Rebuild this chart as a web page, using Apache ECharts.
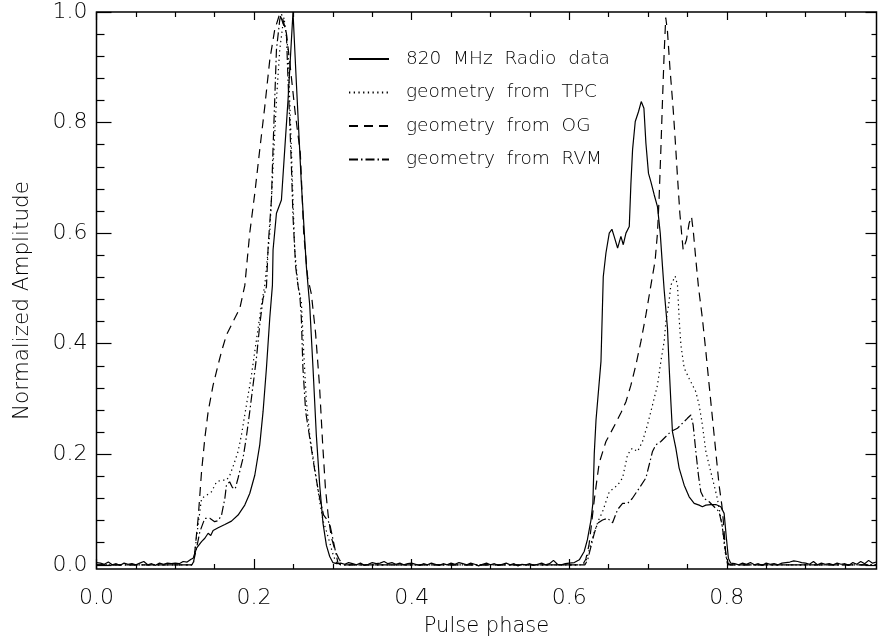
<!DOCTYPE html>
<html><head><meta charset="utf-8">
<script src="https://cdn.jsdelivr.net/npm/echarts@6/dist/echarts.min.js"></script>
<style>html,body{margin:0;padding:0;background:#fff}#c{width:878px;height:644px}</style>
</head><body><div id="c"></div>
<script>
// ---- data (pulse phase, normalized amplitude) ----
const radioPhase = [0,0.005,0.01,0.015,0.02,0.025,0.03,0.035,0.04,0.045,0.05,0.055,0.06,0.065,0.07,0.075,0.08,0.085,0.09,0.095,0.1,0.105,0.11,0.115,0.12,
 0.1227,0.127,0.1333,0.1375,0.1417,0.145,0.148,0.1544,0.1629,0.1713,0.1797,0.1882,0.1945,0.2009,0.2072,0.2114,0.2157,0.2199,0.2233,0.2241,0.2284,0.2347,0.2389,0.2431,0.2494,
 0.2537,0.26,0.2664,0.2706,0.2748,0.279,0.2833,0.2875,0.2918,0.296,0.3,
 0.305,0.31,0.315,0.32,0.325,0.33,0.335,0.34,0.345,0.35,0.355,0.36,0.365,0.37,0.375,0.38,0.385,0.39,0.395,0.4,0.405,0.41,0.415,0.42,0.425,0.43,0.435,0.44,0.445,0.45,
 0.455,0.46,0.465,0.47,0.475,0.48,0.485,0.49,0.495,0.5,0.505,0.51,0.515,0.52,0.525,0.53,0.535,0.54,0.545,0.55,0.555,0.56,0.565,0.57,0.575,0.58,0.585,0.59,0.595,0.6,
 0.6065,0.6128,0.619,0.623,0.6276,0.63,0.6318,0.634,0.6403,0.6432,0.6466,0.6508,0.6542,0.657,0.6614,0.6656,0.6686,0.672,0.6762,0.6783,0.6804,0.6838,0.688,0.6914,0.6948,0.6973,
 0.7006,0.7036,0.7079,0.712,0.7155,0.7184,0.7205,0.7247,0.7269,0.729,0.731,0.7353,0.7395,0.7459,0.7522,0.7586,0.7649,0.769,0.7734,0.7797,0.786,0.7924,0.7966,0.7995,0.802,0.805,
 0.81,0.815,0.82,0.825,0.83,0.835,0.84,0.845,0.85,0.855,0.86,0.865,0.87,0.875,0.88,0.885,0.89,0.895,0.9,0.905,0.91,0.915,0.92,0.925,0.93,0.935,0.94,0.945,0.95,0.955,0.96,0.965,0.97,0.975,0.98,0.985,0.99];
const radioAmp = [0.004,0.003,0.001,0.005,0.000,0.002,-0.001,0.003,0.001,0.002,0.000,0.003,0.006,0.000,0.002,-0.001,0.003,0.001,0.003,0.002,0.003,0.002,0.006,0.005,0.010,
 0.012,0.030,0.042,0.048,0.057,0.053,0.062,0.067,0.073,0.079,0.090,0.108,0.129,0.162,0.217,0.277,0.356,0.446,0.506,0.570,0.636,0.660,0.751,0.841,1.0,
 0.871,0.690,0.539,0.470,0.356,0.235,0.144,0.075,0.035,0.015,0.004,
 0.002,0.003,0.001,0.004,0.002,0.000,0.003,-0.001,0.001,0.004,0.002,0.003,0.006,0.002,0.004,0.001,0.003,0.000,0.002,0.003,0.001,-0.001,0.002,0.000,0.003,0.001,-0.001,0.002,0.000,0.003,
 0.001,0.004,0.002,0.000,0.003,0.001,-0.002,0.001,0.003,0.000,0.002,-0.001,0.001,0.003,0.000,0.002,-0.002,0.001,0.000,0.002,-0.001,0.001,0.003,0.000,0.002,0.008,0.001,0.000,0.002,0.003,
 0.004,0.009,0.024,0.045,0.081,0.111,0.202,0.262,0.368,0.521,0.564,0.600,0.607,0.594,0.573,0.594,0.579,0.600,0.612,0.690,0.751,0.802,0.820,0.838,0.826,0.763,
 0.708,0.693,0.669,0.648,0.600,0.539,0.497,0.428,0.356,0.295,0.241,0.211,0.175,0.144,0.123,0.111,0.108,0.105,0.108,0.109,0.109,0.105,0.093,0.048,0.012,0.003,
 0.002,0.000,0.003,0.001,0.004,0.000,0.002,-0.001,0.003,0.001,0.002,0.000,0.003,0.004,0.005,0.007,0.006,0.004,0.003,0.001,0.006,0.000,0.003,0.001,0.002,0.000,0.003,0.001,0.002,-0.001,0.004,0.001,0.006,0.002,0.008,0.003,0.005];

const tpcPhase = [0,0.121,0.1235,0.127,0.1333,0.1397,0.146,0.1523,0.1587,0.165,0.1692,0.1734,0.1797,0.184,0.1882,0.1924,0.1967,0.2009,0.2051,0.2093,0.2136,0.2199,0.2241,0.2284,0.2326,0.2368,0.238,
 0.2431,0.2452,0.2474,0.2494,0.2516,0.2558,0.26,0.263,0.2664,0.2706,0.277,0.2833,0.2875,0.292,0.297,0.301,0.305,0.31,
 0.618,0.622,0.626,0.632,0.637,0.6423,0.6508,0.6614,0.6677,0.674,0.68,0.6867,0.693,0.6993,0.7057,0.712,0.7163,0.7205,0.7227,0.7262,0.729,0.7345,0.7374,0.7395,0.7417,0.7459,0.7522,
 0.7607,0.7649,0.769,0.7734,0.7797,0.7839,0.788,0.791,0.794,0.7978,0.801,0.805,0.99];
const tpcAmp = [0,0,0.006,0.05,0.120,0.126,0.132,0.150,0.153,0.153,0.162,0.178,0.205,0.235,0.271,0.307,0.343,0.386,0.428,0.470,0.506,0.600,0.720,0.841,0.932,0.980,0.99,
 0.932,0.841,0.751,0.660,0.570,0.503,0.476,0.386,0.295,0.235,0.175,0.114,0.080,0.060,0.035,0.015,0.003,0,
 0,0.010,0.030,0.060,0.080,0.096,0.132,0.144,0.157,0.199,0.211,0.205,0.223,0.253,0.289,0.325,0.368,0.404,0.440,0.470,0.506,0.522,0.506,0.446,0.398,0.356,0.337,
 0.313,0.289,0.253,0.205,0.168,0.144,0.120,0.096,0.072,0.024,0.002,0,0];

const ogPhase = [0,0.121,0.1235,0.129,0.1333,0.1375,0.1417,0.148,0.1544,0.1587,0.165,0.1734,0.1819,0.1882,0.1945,0.2009,0.2072,0.2136,0.2199,0.2262,0.2326,0.235,
 0.241,0.246,0.252,0.2587,0.263,0.268,0.2727,0.278,0.283,0.287,0.2905,0.294,0.298,0.303,0.308,0.3125,
 0.617,0.621,0.625,0.6276,0.632,0.638,0.6466,0.653,0.6593,0.666,0.672,0.6783,0.6847,0.691,0.6973,0.7037,0.709,0.712,0.714,0.7163,0.7184,0.7205,0.7225,
 0.7247,0.7277,0.732,0.7345,0.7374,0.7404,0.743,0.7446,0.7488,0.7522,0.7552,0.7577,0.7607,0.764,0.769,0.7734,0.7776,0.7818,0.786,0.7902,0.7937,0.7953,0.7987,0.802,0.99];
const ogAmp = [0,0,0.006,0.084,0.168,0.229,0.277,0.325,0.362,0.386,0.416,0.440,0.464,0.505,0.600,0.672,0.751,0.829,0.913,0.968,0.997,1.0,
 0.962,0.900,0.820,0.745,0.600,0.520,0.490,0.420,0.325,0.220,0.140,0.090,0.050,0.025,0.010,0,
 0,0.010,0.035,0.065,0.120,0.184,0.223,0.240,0.257,0.276,0.295,0.325,0.362,0.404,0.452,0.506,0.550,0.600,0.660,0.751,0.841,0.926,0.990,
 0.965,0.901,0.823,0.769,0.702,0.636,0.594,0.570,0.588,0.618,0.630,0.600,0.552,0.503,0.446,0.386,0.325,0.265,0.205,0.144,0.108,0.084,0.020,0,0];

const rvmPhase = [0,0.121,0.1235,0.127,0.1312,0.1375,0.1438,0.15,0.1545,0.1587,0.1629,0.165,0.169,0.1725,0.176,0.1797,0.186,0.19,0.1945,0.1987,0.203,0.2072,0.2114,0.2157,0.218,0.222,0.224,0.2262,0.2284,0.2326,0.2347,
 0.241,0.243,0.245,0.2474,0.2494,0.2528,0.256,0.258,0.26,0.262,0.2655,0.2773,0.2833,0.2883,0.2959,0.301,0.3065,0.31,
 0.62,0.6234,0.6276,0.6318,0.636,0.6423,0.6487,0.655,0.6614,0.6677,0.674,0.68,0.6885,0.6973,0.7015,0.7057,0.71,0.7163,0.7227,0.729,0.7374,0.7437,0.75,0.7544,
 0.7573,0.7607,0.764,0.767,0.7712,0.7776,0.7902,0.794,0.7978,0.8006,0.805,0.99];
const rvmAmp = [0,0,0.008,0.030,0.060,0.084,0.084,0.078,0.080,0.090,0.120,0.145,0.150,0.140,0.137,0.157,0.193,0.229,0.277,0.325,0.374,0.434,0.482,0.503,0.580,0.660,0.751,0.841,0.932,0.986,0.997,
 0.962,0.880,0.811,0.720,0.630,0.539,0.503,0.488,0.446,0.356,0.277,0.168,0.120,0.090,0.075,0.040,0.003,0,
 0,0.009,0.033,0.057,0.075,0.081,0.084,0.076,0.100,0.111,0.111,0.120,0.138,0.157,0.181,0.205,0.217,0.223,0.232,0.241,0.247,0.256,0.265,0.271,
 0.253,0.205,0.162,0.132,0.120,0.114,0.096,0.072,0.030,0.003,0,0];

const seriesNames = ['820  MHz  Radio  data','geometry  from  TPC','geometry  from  OG','geometry  from  RVM'];
const xMajor = [0,0.2,0.4,0.6,0.8];
const xMinor = [0.05,0.1,0.15,0.25,0.3,0.35,0.45,0.5,0.55,0.65,0.7,0.75,0.85,0.9,0.95];
const yMajor = [0,0.2,0.4,0.6,0.8,1.0];
const yMinor = [0.04,0.08,0.12,0.16,0.24,0.28,0.32,0.36,0.44,0.48,0.52,0.56,0.64,0.68,0.72,0.76,0.84,0.88,0.92,0.96];

// ---- chart ----
const zip = (p, a) => p.map((v, i) => [v, a[i]]);
const FONT = 'DejaVu Sans';
const tickStyle = {color:'#000', width:1.2};
function xAx(grid, pos, vals, len, withLabels) {
  const ax = {type:'value', gridIndex:grid, min:0, max:0.99, position:pos, axisLine:{show:false, onZero:false}, splitLine:{show:false},
    axisTick:{show:true, inside:true, length:len, customValues:vals, lineStyle:tickStyle},
    axisLabel:{show:false}};
  if (withLabels) {
    ax.axisLabel = {show:true, customValues:xMajor, formatter:v => v.toFixed(1), margin:18,
      color:'#000', fontFamily:FONT, fontSize:22, fontWeight:200};
    ax.name = 'Pulse phase'; ax.nameLocation = 'middle'; ax.nameGap = 47;
    ax.nameTextStyle = {color:'#000', fontFamily:FONT, fontSize:21, fontWeight:200};
  }
  return ax;
}
function yAx(grid, pos, vals, len, withLabels) {
  const ax = {type:'value', gridIndex:grid, min:-0.0076, max:1.0, position:pos, axisLine:{show:false, onZero:false}, splitLine:{show:false},
    axisTick:{show:true, inside:true, length:len, customValues:vals, lineStyle:tickStyle},
    axisLabel:{show:false}};
  if (withLabels) {
    ax.axisLabel = {show:true, customValues:yMajor, formatter:v => v.toFixed(1), margin:9,
      color:'#000', fontFamily:FONT, fontSize:22, fontWeight:200};
    ax.name = 'Normalized Amplitude'; ax.nameLocation = 'middle'; ax.nameGap = 63;
    ax.nameTextStyle = {color:'#000', fontFamily:FONT, fontSize:21.5, fontWeight:200, padding:[0,20,0,0]};
  }
  return ax;
}
const lineTypes = ['solid', [1.3,3.4], [9,6], [9,3,1.5,3]];
const datasets = [zip(radioPhase, radioAmp), zip(tpcPhase, tpcAmp), zip(ogPhase, ogAmp), zip(rvmPhase, rvmAmp)];
const gridBox = {left:96.5, right:1.5, top:12, bottom:75, containLabel:false, outerBoundsMode:'none'};

const chart = echarts.init(document.getElementById('c'), null, {renderer:'canvas'});
chart.setOption({
  animation:false,
  backgroundColor:'#fff',
  grid:[Object.assign({show:true, borderColor:'#000', borderWidth:1.5}, gridBox), Object.assign({show:false}, gridBox)],
  xAxis:[xAx(0, 'bottom', xMajor, 10, true), xAx(0, 'top', xMajor, 8, false), xAx(1, 'bottom', xMinor, 5, false), xAx(1, 'top', xMinor, 5, false)],
  yAxis:[yAx(0, 'left', yMajor, 15, true), yAx(0, 'right', yMajor, 11, false), yAx(1, 'left', yMinor, 8, false), yAx(1, 'right', yMinor, 5, false)],
  legend:{show:true, orient:'vertical', left:348, top:49, padding:0, itemWidth:40, itemHeight:14, itemGap:13.5,
    data:seriesNames, itemStyle:{opacity:0},
    textStyle:{color:'#000', fontFamily:FONT, fontSize:18.5, fontWeight:200, lineHeight:20, padding:[0,0,0,12]}},
  series:seriesNames.map((n, i) => ({
    name:n, type:'line', data:datasets[i], xAxisIndex:0, yAxisIndex:0,
    symbol:'none', showSymbol:false, clip:true,
    lineStyle:{color:'#000', width:1.2, type:lineTypes[i]},
    itemStyle:{color:'#000'}
  }))
});
</script></body></html>
